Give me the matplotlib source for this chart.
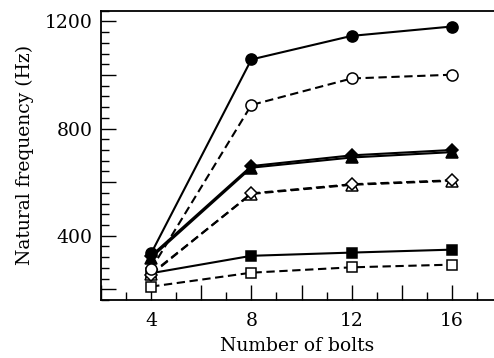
import matplotlib
matplotlib.use("Agg")
import matplotlib.pyplot as plt
from matplotlib.ticker import MultipleLocator, FuncFormatter

bolts = [4, 8, 12, 16]
filled_circle = [334, 1058, 1146, 1181]
open_circle = [275, 888, 987, 1001]
filled_diamond = [325, 660, 700, 720]
filled_triangle = [318, 654, 692, 712]
open_diamond = [255, 558, 592, 607]
open_triangle = [258, 556, 590, 605]
filled_square = [260, 325, 337, 348]
open_square = [210, 262, 282, 292]

x_labels = {4: "4", 8: "8", 12: "12", 16: "16"}
y_labels = {400: "400", 800: "800", 1200: "1200"}

plt.rcParams['font.family'] = ['DejaVu Serif']

fig = plt.figure(figsize=(4.94, 3.58), dpi=100)
ax = fig.add_axes([101/494, 58/358, 393/494, 289.3/358])

series = [
    (filled_square, 's', 'black', '-'),
    (open_square, 's', 'white', '--'),
    (open_triangle, '^', 'white', '--'),
    (open_diamond, 'D', 'white', '--'),
    (filled_triangle, '^', 'black', '-'),
    (filled_diamond, 'D', 'black', '-'),
    (open_circle, 'o', 'white', '--'),
    (filled_circle, 'o', 'black', '-'),
]
sizes = {'o': 8, 's': 7.5, 'D': 6.5, '^': 8}
for vals, m, fc, ls in series:
    kw = dict(color='black', lw=1.5, marker=m, markersize=sizes[m],
              markerfacecolor=fc, markeredgecolor='black', markeredgewidth=1.1)
    if ls == '--':
        ax.plot(bolts, vals, linestyle='--', dashes=(4, 2.2), **kw)
    else:
        ax.plot(bolts, vals, linestyle='-', **kw)

ax.set_xlim(2, 17.68)
ax.set_ylim(160, 1240)

ax.xaxis.set_major_locator(MultipleLocator(2))
ax.xaxis.set_minor_locator(MultipleLocator(1))
ax.yaxis.set_major_locator(MultipleLocator(200))
ax.yaxis.set_minor_locator(MultipleLocator(40))
ax.xaxis.set_major_formatter(FuncFormatter(lambda v, p: x_labels.get(int(round(v)), "")))
ax.yaxis.set_major_formatter(FuncFormatter(lambda v, p: y_labels.get(int(round(v)), "")))

ax.tick_params(which='major', direction='in', length=11, width=1.0, labelsize=13.5)
ax.tick_params(axis='x', which='major', pad=9)
ax.tick_params(axis='y', which='major', pad=6)
ax.tick_params(which='minor', direction='in', length=5.8, width=1.0)
ax.tick_params(top=False, right=False, which='both')

for s in ['left', 'bottom', 'top']:
    ax.spines[s].set_linewidth(1.3)
ax.spines['right'].set_visible(False)

ax.set_xlabel("Number of bolts", fontsize=13.5, labelpad=5)
ax.set_ylabel("Natural frequency (Hz)", fontsize=13.5, labelpad=8)

fig.savefig("out.png", dpi=100)
